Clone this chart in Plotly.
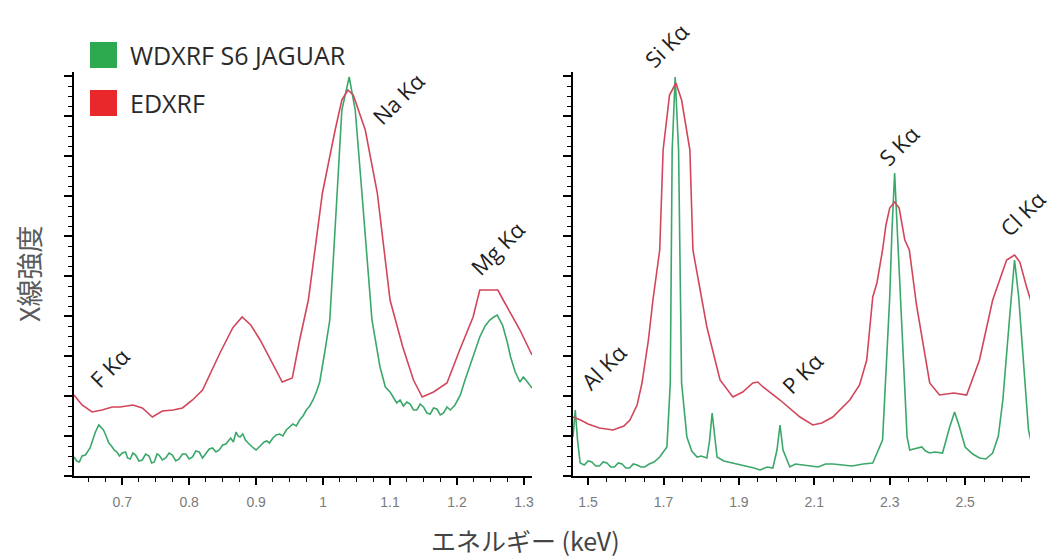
import plotly.graph_objects as go

# ---------------- data (energy keV, intensity arbitrary units) ----------------
left_wd_e = [0.628, 0.632, 0.636, 0.640, 0.645, 0.652, 0.657, 0.660, 0.665, 0.669,
             0.672, 0.676, 0.680, 0.684, 0.688, 0.692, 0.696, 0.700, 0.705, 0.708,
             0.712, 0.716, 0.720, 0.725, 0.730, 0.735, 0.740, 0.744, 0.748, 0.752,
             0.755, 0.760, 0.765, 0.770, 0.775, 0.780, 0.785, 0.790, 0.795, 0.800,
             0.805, 0.810, 0.815, 0.820, 0.825, 0.830, 0.835, 0.840, 0.845, 0.850,
             0.855, 0.859, 0.862, 0.866, 0.870, 0.873, 0.876, 0.880, 0.884, 0.888,
             0.892, 0.896, 0.900, 0.904, 0.908, 0.912, 0.916, 0.920, 0.925, 0.930,
             0.935, 0.940, 0.945, 0.950, 0.955, 0.960, 0.965, 0.970, 0.975, 0.980,
             0.985, 0.990, 0.995, 1.003, 1.010, 1.021, 1.028, 1.039, 1.048, 1.058,
             1.073, 1.085, 1.093, 1.100, 1.104, 1.110, 1.115, 1.120, 1.125, 1.130,
             1.135, 1.140, 1.145, 1.150, 1.155, 1.160, 1.165, 1.170, 1.175, 1.180,
             1.185, 1.190, 1.197, 1.205, 1.212, 1.219, 1.227, 1.234, 1.242, 1.249,
             1.255, 1.260, 1.268, 1.275, 1.280, 1.287, 1.294, 1.299, 1.303, 1.308,
             1.312]
left_wd_i = [19, 15, 14, 20, 21, 28, 38, 44, 51, 48,
             46, 40, 33, 30, 26, 24, 20, 23, 24, 18,
             17, 23, 21, 15, 16, 22, 20, 13, 14, 22,
             21, 16, 18, 23, 21, 15, 17, 22, 22, 17,
             19, 25, 24, 18, 22, 27, 28, 24, 26, 31,
             32, 36, 38, 34, 44, 40, 39, 42, 36, 33,
             30, 28, 26, 29, 31, 34, 35, 33, 38, 41,
             42, 40, 46, 49, 52, 50, 56, 60, 66, 70,
             76, 84, 94, 126, 156, 283, 366, 399, 366, 283,
             156, 109, 89, 84, 79, 73, 76, 70, 74, 72,
             66, 66, 72, 69, 63, 62, 68, 67, 61, 63,
             69, 66, 71, 81, 96, 109, 126, 139, 150, 156,
             159, 161, 151, 134, 119, 104, 94, 99, 96, 91,
             88]

left_ed_e = [0.628, 0.640, 0.655, 0.670, 0.685, 0.697, 0.716, 0.730, 0.745, 0.760,
             0.776, 0.790, 0.805, 0.820, 0.846, 0.865, 0.879, 0.892, 0.906, 0.925,
             0.939, 0.954, 0.965, 0.978, 0.999, 1.018, 1.028, 1.037, 1.045, 1.063,
             1.081, 1.100, 1.119, 1.135, 1.148, 1.165, 1.185, 1.204, 1.224, 1.234,
             1.261, 1.269, 1.294, 1.312]
left_ed_i = [81, 71, 64, 66, 69, 69, 71, 68, 59, 65,
             66, 68, 76, 86, 123, 148, 159, 151, 136, 111,
             94, 98, 136, 176, 283, 346, 376, 386, 381, 346,
             283, 176, 129, 96, 79, 84, 93, 126, 159, 186,
             186, 176, 146, 121]

right_wd_e = [1.460, 1.466, 1.472, 1.479, 1.490, 1.500, 1.510, 1.520, 1.530, 1.540,
              1.550, 1.560, 1.570, 1.580, 1.590, 1.600, 1.610, 1.620, 1.630, 1.640,
              1.650, 1.662, 1.675, 1.690, 1.709, 1.718, 1.723, 1.731, 1.740, 1.748,
              1.762, 1.775, 1.789, 1.800, 1.815, 1.822, 1.829, 1.836, 1.842, 1.860,
              1.884, 1.900, 1.920, 1.940, 1.956, 1.975, 1.990, 2.001, 2.009, 2.017,
              2.035, 2.050, 2.070, 2.090, 2.110, 2.130, 2.150, 2.175, 2.200, 2.230,
              2.255, 2.281, 2.294, 2.300, 2.306, 2.313, 2.320, 2.329, 2.335, 2.346,
              2.353, 2.370, 2.385, 2.395, 2.406, 2.420, 2.440, 2.459, 2.472, 2.485,
              2.500, 2.520, 2.538, 2.555, 2.573, 2.588, 2.600, 2.618, 2.631, 2.642,
              2.658, 2.668, 2.674]
right_wd_i = [39, 66, 36, 13, 11, 15, 14, 10, 10, 14,
              13, 9, 9, 13, 12, 8, 8, 12, 11, 9,
              9, 12, 14, 19, 29, 93, 326, 399, 326, 93,
              39, 25, 19, 20, 18, 35, 63, 35, 19, 15,
              13, 12, 10, 8, 6, 9, 8, 26, 51, 26,
              9, 12, 11, 10, 9, 12, 12, 11, 10, 12,
              13, 36, 126, 179, 246, 303, 246, 179, 126, 39,
              26, 28, 29, 25, 23, 24, 23, 49, 64, 49,
              29, 22, 18, 17, 23, 40, 76, 159, 216, 179,
              93, 46, 36]

right_ed_e = [1.460, 1.480, 1.500, 1.530, 1.566, 1.595, 1.611, 1.630, 1.643, 1.660,
              1.672, 1.690, 1.699, 1.716, 1.733, 1.748, 1.770, 1.778, 1.815, 1.850,
              1.884, 1.910, 1.937, 1.950, 1.964, 2.009, 2.062, 2.096, 2.120, 2.149,
              2.194, 2.220, 2.239, 2.255, 2.266, 2.281, 2.290, 2.300, 2.313, 2.325,
              2.340, 2.352, 2.371, 2.406, 2.432, 2.470, 2.504, 2.538, 2.573, 2.610,
              2.631, 2.645, 2.663, 2.676]
right_ed_i = [59, 56, 52, 48, 46, 50, 56, 71, 93, 136,
              176, 226, 326, 381, 393, 376, 326, 226, 149, 96,
              79, 84, 93, 94, 89, 76, 59, 51, 53, 59,
              76, 91, 116, 179, 193, 226, 251, 268, 274, 268,
              236, 226, 171, 93, 81, 83, 81, 116, 176, 216,
              221, 214, 189, 173]

series_names = ["WDXRF S6 JAGUAR", "EDXRF"]
peak_labels = ["F Kα", "Na Kα", "Mg Kα", "Al Kα", "Si Kα", "P Kα", "S Kα", "Cl Kα"]
peak_panel = ["x", "x", "x", "x2", "x2", "x2", "x2", "x2"]
peak_e = [0.681, 1.112, 1.260, 1.542, 1.707, 2.067, 2.324, 2.652]
peak_i = [109, 378, 228, 110, 431, 103, 331, 263]

x_title = "エネルギー (keV)"
y_title = "X線強度"

# ---------------- styles ----------------
GREEN_LINE = "#3BA86A"
RED_LINE = "#D2465A"
GREEN_SQ = "#2DAA4F"
RED_SQ = "#E8282B"

W, H = 1051, 557
ML, MR, MT, MB = 74, 21, 72, 81
PW, PH = W - ML - MR, H - MT - MB
Y_MAX = 404


def px(x):
    return (x - ML) / PW


def py(y):
    return (H - MB - y) / PH


fig = go.Figure()
fig.add_trace(go.Scatter(x=left_wd_e, y=left_wd_i, mode="lines", name=series_names[0],
                         line=dict(color=GREEN_LINE, width=1.6), xaxis="x", yaxis="y"))
fig.add_trace(go.Scatter(x=left_ed_e, y=left_ed_i, mode="lines", name=series_names[1],
                         line=dict(color=RED_LINE, width=1.6), xaxis="x", yaxis="y"))
fig.add_trace(go.Scatter(x=right_wd_e, y=right_wd_i, mode="lines", name=series_names[0],
                         line=dict(color=GREEN_LINE, width=1.6), xaxis="x2", yaxis="y2"))
fig.add_trace(go.Scatter(x=right_ed_e, y=right_ed_i, mode="lines", name=series_names[1],
                         line=dict(color=RED_LINE, width=1.6), xaxis="x2", yaxis="y2"))

tickfont = dict(family="Liberation Sans, Arial", size=14, color="#7a7a7a")
xcommon = dict(showgrid=False, zeroline=False, showline=True, linecolor="black", linewidth=2,
               ticks="outside", ticklen=7, tickwidth=1.5, tickcolor="black",
               tickfont=tickfont, ticklabelstandoff=5)
ycommon = dict(showgrid=False, zeroline=False, showline=True, linecolor="black", linewidth=2,
               ticks="outside", ticklen=8, tickwidth=1.5, tickcolor="black",
               showticklabels=False, range=[0, Y_MAX], dtick=40,
               minor=dict(ticks="outside", ticklen=4, dtick=10, tickcolor="black", tickwidth=1.2))

left_right = px(532)
right_left = px(573)

fig.update_layout(
    width=W, height=H,
    margin=dict(l=ML, r=MR, t=MT, b=MB),
    paper_bgcolor="white", plot_bgcolor="white",
    showlegend=False,
    xaxis=dict(domain=[0, left_right], range=[0.628, 1.312], dtick=0.1, tick0=0,
               minor=dict(ticks="outside", ticklen=4, dtick=0.025, tickcolor="black", tickwidth=1.2),
               anchor="y", **xcommon),
    yaxis=dict(domain=[0, 1], anchor="x", **ycommon),
    xaxis2=dict(domain=[right_left, 1], range=[1.46, 2.672], dtick=0.2, tick0=1.5,
                minor=dict(ticks="outside", ticklen=4, dtick=0.05, tickcolor="black", tickwidth=1.2),
                anchor="y2", **xcommon),
    yaxis2=dict(domain=[0, 1], anchor="x2", **ycommon),
)

# peak labels (y axes span the full paper height, so intensity / Y_MAX is the paper y)
for lab, pan, e, i in zip(peak_labels, peak_panel, peak_e, peak_i):
    fig.add_annotation(x=e, y=i / Y_MAX, xref=pan, yref="paper",
                       text=lab, showarrow=False, textangle=-45,
                       xanchor="center", yanchor="middle",
                       font=dict(family="Open Sans", size=22, color="#1e1e1e"))

# axis titles
fig.add_annotation(x=px(525), y=py(540), xref="paper", yref="paper", text=x_title,
                   showarrow=False, xanchor="center", yanchor="middle",
                   font=dict(family="Noto Sans CJK JP", size=25, color="#444444"))
fig.add_annotation(x=px(28), y=py(274), xref="paper", yref="paper", text=y_title,
                   showarrow=False, textangle=-90, xanchor="center", yanchor="middle",
                   font=dict(family="Noto Sans CJK JP", size=27, color="#5a5a5a"))

# legend (squares + text)
legend_items = [(series_names[0], GREEN_SQ, 55), (series_names[1], RED_SQ, 103)]
for name, col, cy in legend_items:
    fig.add_shape(type="rect", xref="paper", yref="paper",
                  x0=px(90), x1=px(117), y0=py(cy + 13), y1=py(cy - 13),
                  fillcolor=col, line=dict(width=0))
    fig.add_annotation(x=px(128), y=py(cy), xref="paper", yref="paper", text=name,
                       showarrow=False, xanchor="left", yanchor="middle",
                       font=dict(family="Open Sans", size=25, color="#2a2a2a"))

fig.write_html("out.html", config={"displayModeBar": False},
               post_script="document.body.style.margin='0';")
